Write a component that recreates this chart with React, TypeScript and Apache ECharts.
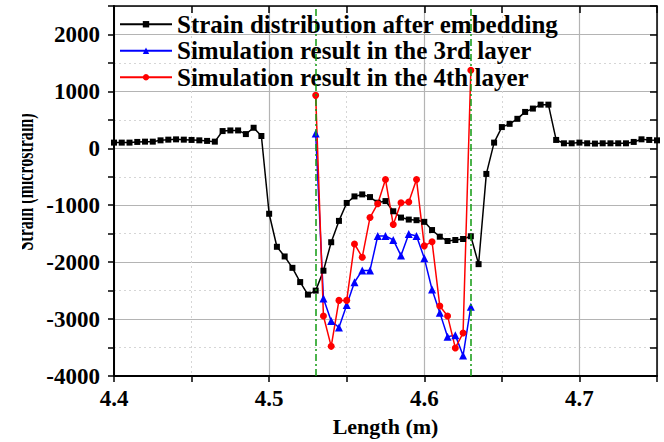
import React, { useEffect, useRef } from 'react';
import * as echarts from 'echarts';

// Sampling grid of the embedded-strain curve (m)
const embedStart = 4.4;
const simStart = 4.53;
const sampleStep = 0.005;

// Strain distribution after embedding (microstrain), 4.400 .. 4.750 m
const embeddedStrain = [
  100, 100, 100, 112, 117, 117, 140, 152, 157, 152, 147, 140, 130, 117,
  303, 314, 314, 250, 361, 216,
  -1150, -1730, -1900, -2100, -2350, -2570, -2500, -2150, -1650, -1275,
  -960, -845, -810, -857, -956, -927, -1106, -1217, -1252, -1263,
  -1292, -1436, -1553, -1628, -1611, -1593, -1545, -2035, -450, 100,
  373, 430, 518, 639, 698, 767, 767, 147, 88, 88,
  100, 88, 83, 88, 88, 88, 88, 112, 158, 147, 140,
];

// Simulation results, 4.530 .. 4.630 m
const layer3 = [
  262, -2637, -3032, -3148, -2754, -2353, -2145, -2145, -1541, -1541, -1610,
  -1884, -1506, -1541, -1930, -2480, -2887, -3310, -3282, -3641, -2783,
];
const layer4 = [
  930, -2945, -3479, -2672, -2672, -1680, -1913, -1217, -973, -549, -1339,
  -956, -944, -549, -1714, -1640, -2771, -2945, -3507, -3246, 1370,
];

// Boundaries of the embedded region (m)
const boundaries = [4.53, 4.63];

const seriesNames = [
  'Strain distribution after embedding',
  'Simulation result in the 3rd layer',
  'Simulation result in the 4th layer',
];

const xMin = 4.4;
const xMax = 4.75;
const yMin = -4000;
const yMax = 2500;

const FONT = "'Liberation Serif', 'Times New Roman', serif";

function toPairs(start: number, vals: number[]) {
  return vals.map((v, i) => [+(start + i * sampleStep).toFixed(3), v]);
}

export default function App() {
  const ref = useRef<HTMLDivElement>(null);
  useEffect(() => {
    const chart = echarts.init(ref.current!, null, { renderer: 'svg' });
    const xFmt = (v: number) => {
      const t = v * 10;
      return Math.abs(t - Math.round(t)) < 1e-6 && v < 4.74 ? v.toFixed(1) : '';
    };
    const yFmt = (v: number) => (Math.round(v) % 1000 === 0 && v <= 2000 ? String(v) : '');
    const labelStyle = { fontSize: 23, fontWeight: 'bold', color: '#000', fontFamily: FONT };
    chart.setOption({
      animation: false,
      backgroundColor: '#fff',
      textStyle: { fontFamily: FONT },
      grid: { left: 114, right: 7, top: 6, bottom: 62 },
      legend: {
        orient: 'vertical',
        left: 119,
        top: 11,
        padding: 0,
        itemGap: 0,
        itemWidth: 52,
        itemHeight: 8,
        data: seriesNames,
        textStyle: { fontSize: 25, fontWeight: 'bold', color: '#000', fontFamily: FONT, lineHeight: 26.5 },
      },
      xAxis: [
        {
          type: 'value', position: 'bottom', min: xMin, max: xMax, interval: 0.05,
          axisLine: { show: true, onZero: false, lineStyle: { color: '#000', width: 2 } },
          axisTick: { show: true, inside: false, length: 6, lineStyle: { color: '#000', width: 1.5 } },
          axisLabel: { ...labelStyle, margin: 11, formatter: xFmt, showMinLabel: true, showMaxLabel: true },
          splitLine: { show: true, lineStyle: { color: '#d6d6d6', width: 1, type: [2, 3] } },
          name: 'Length (m)', nameLocation: 'middle', nameGap: 39,
          nameTextStyle: { fontSize: 22, fontWeight: 'bold', color: '#000', fontFamily: FONT },
        },
        {
          type: 'value', position: 'top', min: xMin, max: xMax, interval: 0.05,
          axisLine: { show: true, onZero: false, lineStyle: { color: '#000', width: 1.5 } },
          axisTick: { show: true, inside: true, length: 7, lineStyle: { color: '#000', width: 1.5 } },
          axisLabel: { show: false }, splitLine: { show: false },
        },
        {
          type: 'value', position: 'bottom', min: xMin, max: xMax, interval: 0.1,
          axisLine: { show: false, onZero: false }, axisTick: { show: false }, axisLabel: { show: false },
          splitLine: { show: true, lineStyle: { color: '#b4b4b4', width: 1.2 } },
        },
      ],
      yAxis: [
        {
          type: 'value', position: 'left', min: yMin, max: yMax, interval: 500,
          axisLine: { show: true, onZero: false, lineStyle: { color: '#000', width: 2 } },
          axisTick: { show: true, inside: false, length: 6, lineStyle: { color: '#000', width: 1.5 } },
          axisLabel: { ...labelStyle, margin: 14, formatter: yFmt, showMinLabel: true },
          splitLine: { show: true, lineStyle: { color: '#d6d6d6', width: 1, type: [2, 3] } },
        },
        {
          type: 'value', position: 'right', min: yMin, max: yMax, interval: 500,
          axisLine: { show: true, onZero: false, lineStyle: { color: '#000', width: 1.5 } },
          axisTick: { show: true, inside: true, length: 7, lineStyle: { color: '#000', width: 1.5 } },
          axisLabel: { show: false }, splitLine: { show: false },
        },
        {
          type: 'value', position: 'left', min: yMin, max: yMax, interval: 1000,
          axisLine: { show: false, onZero: false }, axisTick: { show: false }, axisLabel: { show: false },
          splitLine: { show: true, lineStyle: { color: '#b4b4b4', width: 1.2 } },
        },
      ],
      graphic: [
        {
          type: 'text', x: 25, y: 182, rotation: Math.PI / 2, scaleX: 0.89, scaleY: 1.4, z: 10,
          style: {
            text: 'Strain (microstrain)', fontSize: 18, fontWeight: 'bold', fontFamily: FONT,
            fill: '#000', align: 'center', verticalAlign: 'middle',
          },
        },
        {
          type: 'rect', z: 11, shape: { x: 0, y: 90, width: 22, height: 190 },
          style: { fill: '#fff' },
        },
      ],
      series: [
        {
          name: seriesNames[0], type: 'line', xAxisIndex: 0, yAxisIndex: 0,
          data: toPairs(embedStart, embeddedStrain),
          symbol: 'rect', symbolSize: 6,
          lineStyle: { color: '#000', width: 1.5 }, itemStyle: { color: '#000' },
          markLine: {
            silent: true, symbol: 'none', label: { show: false },
            lineStyle: { color: '#109a10', width: 1.5, type: [7, 3, 2, 3] },
            data: boundaries.map((b) => ({ xAxis: b })),
          },
        },
        {
          name: seriesNames[1], type: 'line', xAxisIndex: 0, yAxisIndex: 0,
          data: toPairs(simStart, layer3),
          symbol: 'triangle', symbolSize: 8,
          lineStyle: { color: '#0000ff', width: 1.5 }, itemStyle: { color: '#0000ff' },
        },
        {
          name: seriesNames[2], type: 'line', xAxisIndex: 0, yAxisIndex: 0,
          data: toPairs(simStart, layer4),
          symbol: 'circle', symbolSize: 7,
          lineStyle: { color: '#ff0000', width: 1.5 }, itemStyle: { color: '#ff0000' },
        },
      ],
    });
    return () => chart.dispose();
  }, []);
  return (
    <div
      ref={ref}
      style={{ position: 'fixed', left: 0, top: 0, width: 664, height: 442, background: '#fff' }}
    />
  );
}
